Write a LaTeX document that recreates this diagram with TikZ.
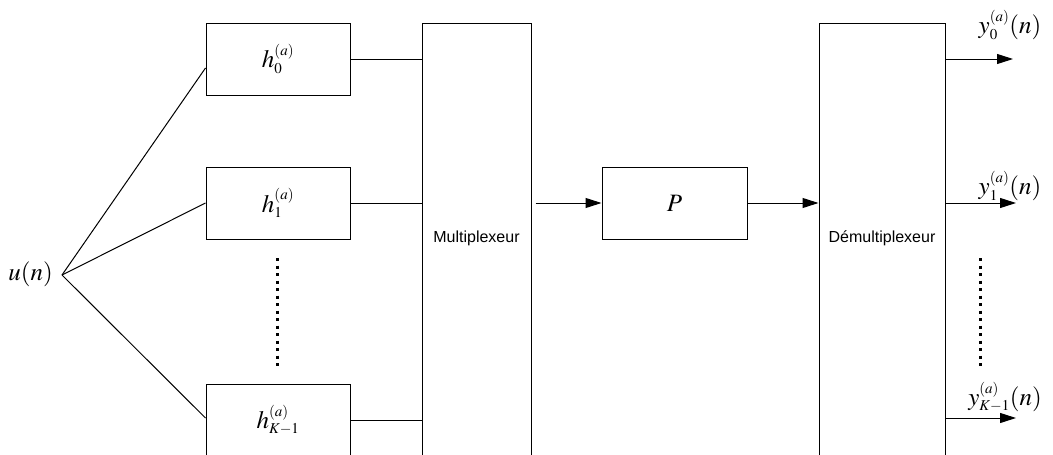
\documentclass[tikz,border=0pt]{standalone}
\usepackage{mathptmx}
\usepackage[no-math]{fontspec}
\setmainfont{Liberation Serif}
\setsansfont{Liberation Sans}
\usetikzlibrary{arrows.meta,calc}
\DeclareMathSizes{25}{25}{15}{11}
\begin{document}
\begin{tikzpicture}[x=1pt,y=-1pt,
  mathfont/.style={font=\fontsize{25}{30}\selectfont},
  blk/.style={draw, line width=1pt, minimum width=144pt, minimum height=72pt, inner sep=0pt, mathfont},
  tall/.style={draw, line width=1pt, minimum height=460pt, inner sep=0pt},
  sflab/.style={font=\sffamily\fontsize{16}{19}\selectfont, inner sep=0pt},
  conn/.style={line width=1pt},
  arr/.style={line width=1pt, -{Triangle[length=16pt,width=10pt]}},
  dotline/.style={line width=3pt, dash pattern=on 3pt off 4.5pt}
]
\useasboundingbox (0,0) rectangle (1053,455);
\clip (0,0) rectangle (1053,455);

% filter blocks
\node[blk] (h0) at (278,59) {$h^{(a)}_0$};
\node[blk] (h1) at (278,203) {$h^{(a)}_1$};
\node[blk] (h2) at (278,420) {$h^{(a)}_{K-1}$};

% multiplexer / demultiplexer
\node[tall, minimum width=109pt, anchor=north] (mux) at (476.5,23) {};
\node[sflab] (muxlab) at (476.5,238) {Multiplexeur};
\node[tall, minimum width=126pt, anchor=north] (demux) at (882,23) {};
\node[sflab] (demuxlab) at (882,238) {Démultiplexeur};

% P block
\node[blk, minimum width=145pt] (P) at (674.5,203) {$P$};

% input
\node[mathfont, anchor=east, inner sep=0pt] (u) at (53,274) {$u(n)$};
\coordinate (src) at (62,275);
\draw[conn] (src) -- ([yshift=-9pt]h0.west);
\draw[conn] (src) -- (h1.west);
\draw[conn] (src) -- ([yshift=2pt]h2.west);

% filters to mux
\draw[conn] (h0.east) -- (mux.west |- h0.east);
\draw[conn] (h1.east) -- (mux.west |- h1.east);
\draw[conn] (h2.east) -- (mux.west |- h2.east);

% mux -> P -> demux
\coordinate (muxout) at ([xshift=4pt]mux.east |- P.west);
\draw[arr] (muxout) -- (P.west);
\draw[arr] (P.east) -- (demux.west |- P.east);

% outputs
\coordinate (o0) at (1013,59);
\coordinate (o1) at (1016,203);
\coordinate (o2) at (1016,418);
\draw[arr] (demux.east |- o0) -- (o0);
\draw[arr] (demux.east |- o1) -- (o1);
\draw[arr] (demux.east |- o2) -- (o2);
\node[mathfont, inner sep=0pt] (y0) at (1010,25) {$y^{(a)}_0(n)$};
\node[mathfont, inner sep=0pt] (y1) at (1010,186) {$y^{(a)}_1(n)$};
\node[mathfont, inner sep=0pt] (y2) at (1005,397) {$y^{(a)}_{K-1}(n)$};

% dots
\coordinate (da) at (277,258);
\coordinate (db) at (277,366);
\draw[dotline] (da) -- (db);
\coordinate (dc) at (980,258);
\coordinate (dd) at (980,366);
\draw[dotline] (dc) -- (dd);
\end{tikzpicture}
\end{document}
